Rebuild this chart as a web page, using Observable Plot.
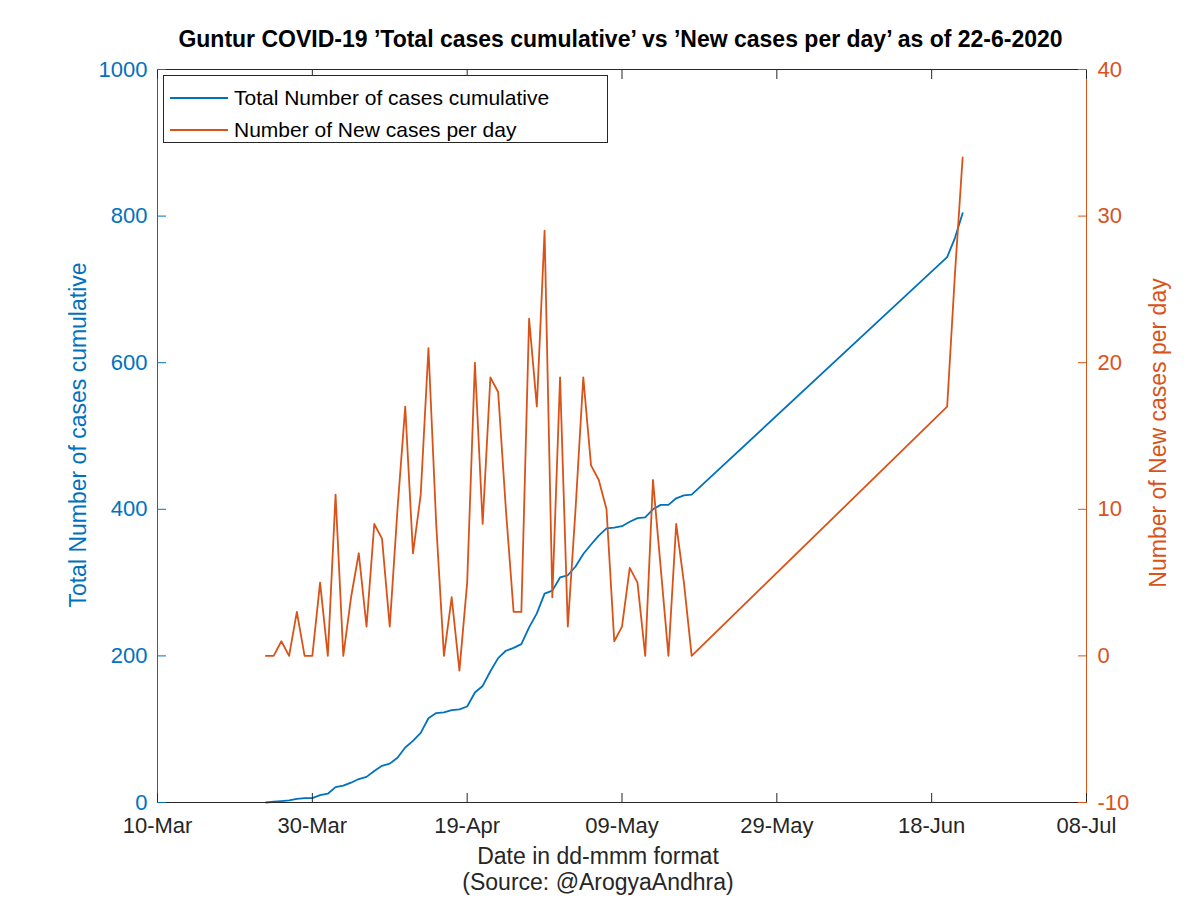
<!DOCTYPE html>
<html><head><meta charset="utf-8">
<script src="https://cdn.jsdelivr.net/npm/d3@7"></script>
<script src="https://cdn.jsdelivr.net/npm/@observablehq/plot@0.6"></script>
<style>
html,body{margin:0;padding:0;background:#fff;}
body{font-family:"Liberation Sans",Arial,Helvetica,sans-serif;}
#wrap{position:relative;width:1200px;height:898px;overflow:hidden;}
.t{position:absolute;white-space:nowrap;line-height:1;}
#legend{position:absolute;left:163px;top:75px;width:445px;height:68px;border:1px solid #262626;background:#fff;box-sizing:border-box;}
.lrow{position:absolute;left:0;height:26px;display:flex;align-items:center;font-size:21px;color:#000;}
</style></head><body>
<div id="wrap"></div>
<script>
// ---- data ----
const dates = [
"2020-03-24","2020-03-25","2020-03-26","2020-03-27","2020-03-28","2020-03-29","2020-03-30","2020-03-31",
"2020-04-01","2020-04-02","2020-04-03","2020-04-04","2020-04-05","2020-04-06","2020-04-07","2020-04-08","2020-04-09","2020-04-10",
"2020-04-11","2020-04-12","2020-04-13","2020-04-14","2020-04-15","2020-04-16","2020-04-17","2020-04-18","2020-04-19","2020-04-20",
"2020-04-21","2020-04-22","2020-04-23","2020-04-24","2020-04-25","2020-04-26","2020-04-27","2020-04-28","2020-04-29","2020-04-30",
"2020-05-01","2020-05-02","2020-05-03","2020-05-04","2020-05-05","2020-05-06","2020-05-07","2020-05-08","2020-05-09","2020-05-10",
"2020-05-11","2020-05-12","2020-05-13","2020-05-14","2020-05-15","2020-05-16","2020-05-17","2020-05-18",
"2020-06-20","2020-06-21","2020-06-22"];
const totalCases = [
0,1,2,3,5,6,6,10,
12,21,23,27,32,35,43,50,53,61,
75,84,95,115,122,123,126,127,131,150,
159,179,197,207,211,216,239,258,285,289,
307,310,322,339,352,364,374,375,377,383,
388,389,400,406,406,415,419,420,
744,770,804];
const newCases = [
0,0,1,0,3,0,0,5,
0,11,0,4,7,2,9,8,2,10,
17,7,11,21,9,0,4,-1,5,20,
9,19,18,10,3,3,23,17,29,4,
19,2,10,19,13,12,10,1,2,6,
5,0,12,6,0,9,5,0,
17,26,34];
const xTickDates = ["2020-03-10","2020-03-30","2020-04-19","2020-05-09","2020-05-29","2020-06-18","2020-07-08"];
const xDomain = ["2020-03-10","2020-07-08"];
const leftTicks = [0,200,400,600,800,1000];
const rightTicks = [-10,0,10,20,30,40];
const leftDomain = [0,1000];
const rightDomain = [-10,40];
const seriesNames = ["Total Number of cases cumulative","Number of New cases per day"];
const titleText = "Guntur COVID-19 \u2019Total cases cumulative\u2019 vs \u2019New cases per day\u2019 as of 22-6-2020";
const xLabel = "Date in dd-mmm format";
const sourceText = "(Source: @ArogyaAndhra)";
const leftLabel = "Total Number of cases cumulative";
const rightLabel = "Number of New cases per day";

// ---- styling ----
const blue = "#0072BD", orange = "#D95319", axisBlack = "#262626";
const FONT = "'Liberation Sans', Arial, Helvetica, sans-serif";

const parse = d3.utcParse("%Y-%m-%d");
const rows = dates.map((d, i) => ({date: parse(d), total: totalCases[i], fresh: newCases[i]}));
const toLeft = v => leftDomain[0] + (v - rightDomain[0]) * (leftDomain[1] - leftDomain[0]) / (rightDomain[1] - rightDomain[0]);
const fromLeft = y => Math.round(rightDomain[0] + (y - leftDomain[0]) * (rightDomain[1] - rightDomain[0]) / (leftDomain[1] - leftDomain[0]));
const xTicks = xTickDates.map(parse);
const fmtDate = d3.utcFormat("%d-%b");

const chart = Plot.plot({
  width: 1200, height: 898,
  marginLeft: 157, marginRight: 114, marginTop: 69, marginBottom: 96,
  style: {fontFamily: FONT, fontSize: "22px", background: "transparent", overflow: "visible"},
  x: {type: "utc", domain: xDomain.map(parse)},
  y: {domain: leftDomain},
  marks: [
    Plot.line(rows, {x: "date", y: "total", stroke: blue, strokeWidth: 1.8}),
    Plot.line(rows, {x: "date", y: d => toLeft(d.fresh), stroke: orange, strokeWidth: 1.8}),
    // frame lines
    Plot.ruleY([leftDomain[1]], {stroke: axisBlack, strokeWidth: 1}),
    Plot.ruleY([leftDomain[0]], {stroke: axisBlack, strokeWidth: 1}),
    Plot.ruleX([parse(xDomain[0])], {stroke: blue, strokeWidth: 1}),
    Plot.ruleX([parse(xDomain[1])], {stroke: orange, strokeWidth: 1}),
    // ticks (inward)
    Plot.axisX(xTicks, {anchor: "bottom", tickSize: -9, fill: "none", stroke: axisBlack, label: null}),
    Plot.axisX(xTicks, {anchor: "top", tickSize: -9, fill: "none", stroke: axisBlack, label: null}),
    Plot.axisX(xTicks, {anchor: "bottom", tickSize: 0, tickPadding: 15, tickFormat: fmtDate, fill: axisBlack, stroke: "none", label: null}),
    Plot.axisY(leftTicks, {anchor: "left", tickSize: -9, fill: "none", stroke: blue, label: null}),
    Plot.axisY(leftTicks, {anchor: "left", tickSize: 0, tickPadding: 10, tickFormat: d => String(d), fill: blue, stroke: "none", label: null}),
    Plot.axisY(rightTicks.map(toLeft), {anchor: "right", tickSize: -9, fill: "none", stroke: orange, label: null}),
    Plot.axisY(rightTicks.map(toLeft), {anchor: "right", tickSize: 0, tickPadding: 11, tickFormat: d => String(fromLeft(d)), fill: orange, stroke: "none", label: null})
  ]
});

const wrap = document.getElementById("wrap");
wrap.appendChild(chart);

function addText(txt, css) {
  const el = document.createElement("div");
  el.className = "t";
  el.textContent = txt;
  Object.assign(el.style, css);
  wrap.appendChild(el);
  return el;
}
addText(titleText, {left: "0px", width: "1241px", textAlign: "center", top: "28px", fontWeight: "bold", fontSize: "23px", color: "#000"});
addText(xLabel, {left: "0px", width: "1196px", textAlign: "center", top: "845px", fontSize: "23px", color: axisBlack});
addText(sourceText, {left: "0px", width: "1196px", textAlign: "center", top: "871px", fontSize: "23px", color: axisBlack});
addText(leftLabel, {left: "78px", top: "435px", transform: "translate(-50%,-50%) rotate(-90deg)", fontSize: "23px", color: blue});
addText(rightLabel, {left: "1158px", top: "433px", transform: "translate(-50%,-50%) rotate(-90deg)", fontSize: "23px", color: orange});

// legend
const legend = document.createElement("div");
legend.id = "legend";
wrap.appendChild(legend);
[blue, orange].forEach((c, i) => {
  const row = document.createElement("div");
  row.className = "lrow";
  row.style.top = (9 + i * 32) + "px";
  row.innerHTML = `<svg width="70" height="26"><line x1="6" x2="64" y1="13" y2="13" stroke="${c}" stroke-width="1.8"/></svg><span>${seriesNames[i]}</span>`;
  legend.appendChild(row);
});
</script>
</body></html>
